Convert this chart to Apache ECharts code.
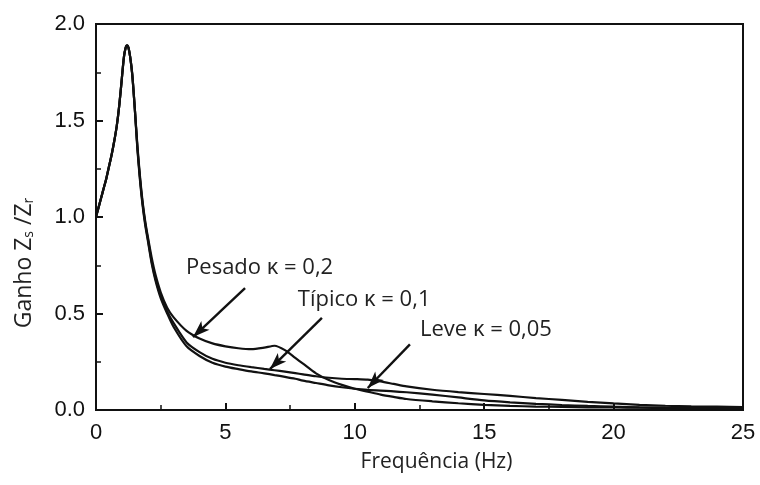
<!DOCTYPE html>
<html>
<head>
<meta charset="utf-8">
<script src="https://cdn.jsdelivr.net/npm/echarts@6/dist/echarts.min.js"></script>
<style>html,body{margin:0;padding:0;background:#fff;}#c{width:760px;height:485px;}</style>
</head>
<body>
<div id="c"></div>
<script>
// Frequency (Hz) sample points
var freq = [0, 0.1, 0.2, 0.3, 0.4, 0.5, 0.6, 0.7, 0.8, 0.9, 1.0, 1.08, 1.15, 1.2, 1.25, 1.32, 1.4, 1.5, 1.6, 1.7, 1.8, 1.9, 2.0, 2.15, 2.3, 2.5, 2.75, 3, 3.5, 4, 4.5, 5, 5.5, 6, 6.5, 6.9, 7.3, 7.7, 8, 8.5, 9, 9.5, 10, 10.5, 11, 11.5, 12, 13, 14, 15, 16, 17, 18, 19, 20, 21, 22, 23, 24, 25];
// Gain Zs/Zr
var pesado = [1.0, 1.05, 1.1, 1.15, 1.2, 1.26, 1.32, 1.39, 1.47, 1.58, 1.72, 1.83, 1.88, 1.89, 1.88, 1.83, 1.74, 1.56, 1.37, 1.21, 1.08, 0.98, 0.9, 0.79, 0.7, 0.61, 0.53, 0.48, 0.41, 0.37, 0.345, 0.33, 0.32, 0.315, 0.323, 0.333, 0.31, 0.27, 0.24, 0.19, 0.155, 0.13, 0.11, 0.095, 0.08, 0.068, 0.057, 0.045, 0.035, 0.027, 0.021, 0.018, 0.016, 0.014, 0.013, 0.012, 0.011, 0.01, 0.01, 0.01];
var tipico = [1.0, 1.05, 1.1, 1.15, 1.2, 1.26, 1.32, 1.39, 1.47, 1.58, 1.72, 1.83, 1.88, 1.89, 1.88, 1.83, 1.74, 1.56, 1.36, 1.2, 1.07, 0.97, 0.89, 0.77, 0.68, 0.59, 0.51, 0.45, 0.35, 0.3, 0.265, 0.245, 0.232, 0.222, 0.213, 0.206, 0.199, 0.191, 0.185, 0.175, 0.167, 0.162, 0.16, 0.157, 0.148, 0.135, 0.122, 0.105, 0.093, 0.083, 0.073, 0.062, 0.052, 0.042, 0.034, 0.027, 0.022, 0.019, 0.017, 0.015];
var leve = [1.0, 1.05, 1.1, 1.15, 1.2, 1.26, 1.32, 1.39, 1.47, 1.58, 1.72, 1.83, 1.88, 1.89, 1.88, 1.83, 1.74, 1.56, 1.35, 1.19, 1.06, 0.96, 0.88, 0.76, 0.67, 0.58, 0.5, 0.43, 0.33, 0.28, 0.245, 0.225, 0.212, 0.2, 0.19, 0.181, 0.172, 0.162, 0.152, 0.14, 0.128, 0.118, 0.11, 0.104, 0.1, 0.097, 0.092, 0.08, 0.065, 0.05, 0.04, 0.032, 0.026, 0.021, 0.017, 0.014, 0.012, 0.011, 0.01, 0.01];
// Annotations (data units)
var labelText = ['Pesado κ = 0,2', 'Típico κ = 0,1', 'Leve κ = 0,05'];
var labelPos = [[3.48, 0.735], [7.8, 0.57], [12.52, 0.415]];
var arrowStart = [[5.76, 0.632], [8.73, 0.477], [12.13, 0.34]];
var arrowEnd = [[3.75, 0.378], [6.72, 0.212], [10.5, 0.114]];
var yTicks = ['0.0', '0.5', '1.0', '1.5', '2.0'];

function pairs(ys) { return freq.map(function (x, i) { return [x, ys[i]]; }); }

var lineStyle = { color: '#111', width: 2.2 };
function mk(name, ys, idx) {
  return {
    name: name, type: 'line', data: pairs(ys), showSymbol: false, symbol: 'none',
    smooth: 0.25, lineStyle: lineStyle, silent: true, z: 3,
    markLine: {
      silent: true, symbol: ['none', 'arrow'], symbolSize: [9, 17],
      lineStyle: { color: '#111', width: 2.4, type: 'solid' },
      label: { show: false },
      data: [[{ coord: arrowStart[idx] }, { coord: arrowEnd[idx] }]]
    },
    markPoint: {
      silent: true, symbol: 'circle', symbolSize: 0,
      label: {
        show: true, position: [0, 0], align: 'left', verticalAlign: 'middle',
        formatter: labelText[idx], fontFamily: 'Open Sans', fontSize: 22, color: '#222'
      },
      data: [{ coord: labelPos[idx] }]
    }
  };
}

var chart = echarts.init(document.getElementById('c'), null, { renderer: 'canvas' });
chart.setOption({
  animation: false,
  backgroundColor: '#fff',
  grid: { left: 96, right: 17, top: 24, bottom: 75, show: true, borderColor: '#111', borderWidth: 2, backgroundColor: 'transparent' },
  xAxis: {
    type: 'value', min: 0, max: 25, interval: 5,
    name: 'Frequência (Hz)', nameLocation: 'middle', nameGap: 42,
    nameTextStyle: { fontFamily: 'Open Sans', fontSize: 21, color: '#222', padding: [0, 0, 0, 34] },
    axisLine: { lineStyle: { color: '#111', width: 2 } },
    axisTick: { inside: true, length: 7, lineStyle: { color: '#111', width: 2 } },
    minorTick: { show: true, splitNumber: 2, length: 5, lineStyle: { color: '#111', width: 1.5 } },
    axisLabel: { fontFamily: 'Liberation Sans', fontSize: 22, color: '#111', margin: 12 },
    splitLine: { show: false }
  },
  yAxis: {
    type: 'value', min: 0, max: 2, interval: 0.5,
    name: 'Ganho Z{s|s} /Z{s|r}', nameLocation: 'middle', nameGap: 60, nameRotate: 90,
    nameTextStyle: {
      fontFamily: 'Open Sans', fontSize: 23, color: '#222', padding: [0, 92, 0, 0],
      rich: { s: { fontFamily: 'Open Sans', fontSize: 14, color: '#222', verticalAlign: 'bottom', padding: [10, 0, 0, 0] } }
    },
    axisLine: { lineStyle: { color: '#111', width: 2 } },
    axisTick: { inside: true, length: 7, lineStyle: { color: '#111', width: 2 } },
    minorTick: { show: true, splitNumber: 2, length: 5, lineStyle: { color: '#111', width: 1.5 } },
    axisLabel: {
      fontFamily: 'Liberation Sans', fontSize: 22, color: '#111', margin: 11,
      formatter: function (v) { return yTicks[Math.round(v / 0.5)]; }
    },
    splitLine: { show: false }
  },
  series: [mk('Pesado', pesado, 0), mk('Típico', tipico, 1), mk('Leve', leve, 2)]
});
</script>
</body>
</html>
